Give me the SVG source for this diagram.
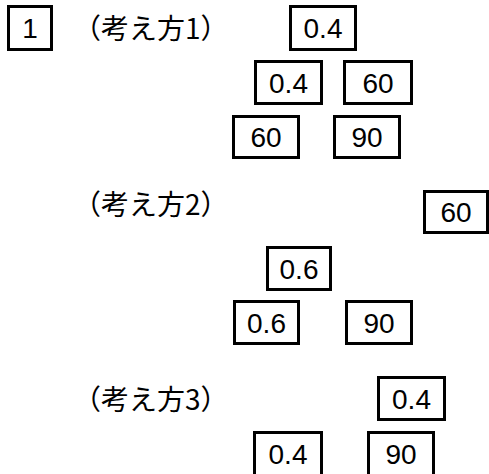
<svg xmlns="http://www.w3.org/2000/svg" width="489" height="474" viewBox="0 0 489 474">
<style>
.b{fill:#fff;stroke:#000;stroke-width:3}
.n{font-family:"Liberation Sans",Arial,sans-serif;font-size:28px;fill:#000;text-anchor:middle}
.l{font-family:"Noto Sans CJK JP","Liberation Sans",sans-serif;font-size:28px;fill:#000}
</style>
<rect width="489" height="474" fill="#fff"/>
<g id="label1"><text class="l" x="73" y="38.5">（考え方1）</text></g>
<g id="label2"><text class="l" x="73" y="214.5">（考え方2）</text></g>
<g id="label3"><text class="l" x="73" y="409.5">（考え方3）</text></g>
<g id="n1"><rect class="b" x="8.5" y="6.5" width="43" height="43"/><text class="n" x="30" y="38">1</text></g>
<g id="n2"><rect class="b" x="290.5" y="6.5" width="65" height="43"/><text class="n" x="323" y="38">0.4</text></g>
<g id="n3"><rect class="b" x="255.5" y="61.5" width="66" height="42"/><text class="n" x="288.5" y="92.5">0.4</text></g>
<g id="n4"><rect class="b" x="344.5" y="61.5" width="67" height="42"/><text class="n" x="378" y="92.5">60</text></g>
<g id="n5"><rect class="b" x="233.5" y="116.5" width="65" height="41"/><text class="n" x="266" y="147">60</text></g>
<g id="n6"><rect class="b" x="334.5" y="116.5" width="65" height="41"/><text class="n" x="367" y="147">90</text></g>
<g id="n7"><rect class="b" x="424.5" y="191.5" width="63" height="41"/><text class="n" x="456" y="222">60</text></g>
<g id="n8"><rect class="b" x="267.5" y="247.5" width="63" height="42"/><text class="n" x="299" y="278.5">0.6</text></g>
<g id="n9"><rect class="b" x="234.5" y="301.5" width="64" height="42"/><text class="n" x="266.5" y="332.5">0.6</text></g>
<g id="n10"><rect class="b" x="346.5" y="301.5" width="65" height="42"/><text class="n" x="379" y="332.5">90</text></g>
<g id="n11"><rect class="b" x="378.5" y="377.5" width="66" height="42"/><text class="n" x="411.5" y="408.5">0.4</text></g>
<g id="n12"><rect class="b" x="254.5" y="432.5" width="67" height="45"/><text class="n" x="288" y="463.5">0.4</text></g>
<g id="n13"><rect class="b" x="368.5" y="432.5" width="65" height="45"/><text class="n" x="401" y="463.5">90</text></g>
<g id="connectors"></g>
</svg>
